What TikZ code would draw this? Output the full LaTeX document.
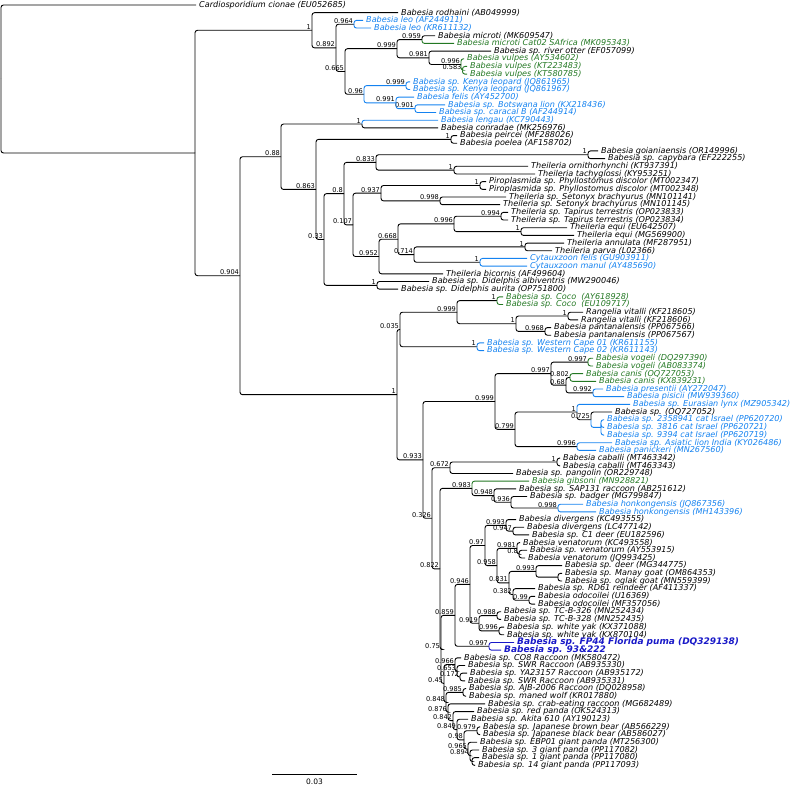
\documentclass[tikz,border=0pt]{standalone}
\usepackage{fontspec}
\setmainfont{DejaVu Sans}
\usetikzlibrary{calc}
\definecolor{lblue}{RGB}{20,130,240}
\definecolor{dgreen}{RGB}{35,120,35}
\definecolor{dblue}{RGB}{25,25,200}
\tikzset{
  br/.style={line width=0.9pt, rounded corners=2.5pt},
  lab/.style={anchor=west, xshift=3pt, inner sep=0pt, font=\fontsize{8.1}{9}\selectfont\itshape},
  sup/.style={anchor=south east, xshift=-0.5pt, yshift=0.3pt, inner sep=0.4pt, font=\fontsize{6.6}{7}\selectfont},
  bl/.style={text=lblue},
  gr/.style={text=dgreen},
  fp/.style={text=dblue, font=\fontsize{9}{10}\selectfont\bfseries\itshape},
}
\newcommand{\leafn}[5]{\coordinate (#1) at (#2,#3);\node[lab,#4] (#1t) at (#1) {#5};}
\newcommand{\inn}[4]{\coordinate (#1) at (#2,#3);\node[sup] (#1s) at (#1) {#4};}
\newcommand{\ed}[3][]{\draw[br,#1] (#2) |- (#3);}
\begin{document}
\begin{tikzpicture}[x=1pt,y=-1pt]
\useasboundingbox (0,0) rectangle (790,788);
% leaves
\leafn{l1}{196}{5.00}{}{Cardiosporidium cionae (EU052685)}
\leafn{l2}{398}{12.68}{}{Babesia rodhaini (AB049999)}
\leafn{l3}{363}{20.36}{bl}{Babesia leo (AF244911)}
\leafn{l4}{371}{28.04}{bl}{Babesia leo (KR611132)}
\leafn{l5}{435}{35.72}{}{Babesia microti (MK609547)}
\leafn{l6}{454}{43.40}{gr}{Babesia microti Cat02 SAfrica (MK095343)}
\leafn{l7}{491}{51.08}{}{Babesia sp. river otter (EF057099)}
\leafn{l8}{464}{58.76}{gr}{Babesia vulpes (AY534602)}
\leafn{l9}{467}{66.44}{gr}{Babesia vulpes (KT223483)}
\leafn{l10}{467}{74.12}{gr}{Babesia vulpes (KT580785)}
\leafn{l11}{410}{81.80}{bl}{Babesia sp. Kenya leopard (JQ861965)}
\leafn{l12}{410}{89.48}{bl}{Babesia sp. Kenya leopard (JQ861967)}
\leafn{l13}{414}{97.16}{bl}{Babesia felis (AY452700)}
\leafn{l14}{445}{104.84}{bl}{Babesia sp. Botswana lion (KX218436)}
\leafn{l15}{436}{112.52}{bl}{Babesia sp. caracal B (AF244914)}
\leafn{l16}{438}{120.20}{bl}{Babesia lengau (KC790443)}
\leafn{l17}{438}{127.88}{}{Babesia conradae (MK256976)}
\leafn{l18}{457}{135.56}{}{Babesia peircei (MF288026)}
\leafn{l19}{457}{143.24}{}{Babesia poelea (AF158702)}
\leafn{l20}{598}{150.92}{}{Babesia goianiaensis (OR149996)}
\leafn{l21}{605}{158.60}{}{Babesia sp. capybara (EF222255)}
\leafn{l22}{528}{166.28}{}{Theileria ornithorhynchi (KT937391)}
\leafn{l23}{535}{173.96}{}{Theileria tachyglossi (KY953251)}
\leafn{l24}{486}{181.64}{}{Piroplasmida sp. Phyllostomus discolor (MT002347)}
\leafn{l25}{486}{189.32}{}{Piroplasmida sp. Phyllostomus discolor (MT002348)}
\leafn{l26}{506}{197.00}{}{Theileria sp. Setonyx brachyurus (MN101141)}
\leafn{l27}{500}{204.68}{}{Theileria sp. Setonyx brachyurus (MN101145)}
\leafn{l28}{508}{212.36}{}{Theileria sp. Tapirus terrestris (OP023833)}
\leafn{l29}{508}{220.04}{}{Theileria sp. Tapirus terrestris (OP023834)}
\leafn{l30}{567}{227.72}{}{Theileria equi (EU642507)}
\leafn{l31}{574}{235.40}{}{Theileria equi (MG569900)}
\leafn{l32}{564}{243.08}{}{Theileria annulata (MF287951)}
\leafn{l33}{552}{250.76}{}{Theileria parva (L02366)}
\leafn{l34}{527}{258.44}{bl}{Cytauxzoon felis (GU903911)}
\leafn{l35}{527}{266.12}{bl}{Cytauxzoon manul (AY485690)}
\leafn{l36}{443}{273.80}{}{Theileria bicornis (AF499604)}
\leafn{l37}{429}{281.48}{}{Babesia sp. Didelphis albiventris (MW290046)}
\leafn{l38}{398}{289.16}{}{Babesia sp. Didelphis aurita (OP751800)}
\leafn{l39}{503}{296.84}{gr}{Babesia sp. Coco~ (AY618928)}
\leafn{l40}{503}{304.52}{gr}{Babesia sp. Coco~ (EU109717)}
\leafn{l41}{583}{312.20}{}{Rangelia vitalli (KF218605)}
\leafn{l42}{578}{319.88}{}{Rangelia vitalli (KF218606)}
\leafn{l43}{551}{327.56}{}{Babesia pantanalensis (PP067566)}
\leafn{l44}{551}{335.24}{}{Babesia pantanalensis (PP067567)}
\leafn{l45}{484}{342.92}{bl}{Babesia sp. Western Cape 01 (KR611155)}
\leafn{l46}{484}{350.60}{bl}{Babesia sp. Western Cape 02 (KR611143)}
\leafn{l47}{593}{358.28}{gr}{Babesia vogeli (DQ297390)}
\leafn{l48}{593}{365.96}{gr}{Babesia vogeli (AB083374)}
\leafn{l49}{583}{373.64}{gr}{Babesia canis (OQ727053)}
\leafn{l50}{596}{381.32}{gr}{Babesia canis (KX839231)}
\leafn{l51}{603}{389.00}{bl}{Babesia presentii (AY272047)}
\leafn{l52}{624}{396.68}{bl}{Babesia pisicii (MW939360)}
\leafn{l53}{630}{404.36}{bl}{Babesia sp. Eurasian lynx (MZ905342)}
\leafn{l54}{612}{412.04}{}{Babesia sp. (OQ727052)}
\leafn{l55}{604}{419.72}{bl}{Babesia sp. 2358941 cat Israel (PP620720)}
\leafn{l56}{604}{427.40}{bl}{Babesia sp. 3816 cat Israel (PP620721)}
\leafn{l57}{604}{435.08}{bl}{Babesia sp. 9394 cat Israel (PP620719)}
\leafn{l58}{612}{442.76}{bl}{Babesia sp. Asiatic lion India (KY026486)}
\leafn{l59}{596}{450.44}{bl}{Babesia panickeri (MN267560)}
\leafn{l60}{560}{458.12}{}{Babesia caballi (MT463342)}
\leafn{l61}{560}{465.80}{}{Babesia caballi (MT463343)}
\leafn{l62}{513}{473.48}{}{Babesia sp. pangolin (OR229748)}
\leafn{l63}{529}{481.16}{gr}{Babesia gibsoni (MN928821)}
\leafn{l64}{516}{488.84}{}{Babesia sp. SAP131 raccoon (AB251612)}
\leafn{l65}{527}{496.52}{}{Babesia sp. badger (MG799847)}
\leafn{l66}{583}{504.20}{bl}{Babesia honkongensis (JQ867356)}
\leafn{l67}{596}{511.88}{bl}{Babesia honkongensis (MH143396)}
\leafn{l68}{516}{519.56}{}{Babesia divergens (KC493555)}
\leafn{l69}{524}{527.24}{}{Babesia divergens (LC477142)}
\leafn{l70}{529}{534.92}{}{Babesia sp. C1 deer (EU182596)}
\leafn{l71}{520}{542.60}{}{Babesia venatorum (KC493558)}
\leafn{l72}{527}{550.28}{}{Babesia sp. venatorum (AY553915)}
\leafn{l73}{525}{557.96}{}{Babesia venatorum (JQ993425)}
\leafn{l74}{562}{565.64}{}{Babesia sp. deer (MG344775)}
\leafn{l75}{562}{573.32}{}{Babesia sp. Manay goat (OM864353)}
\leafn{l76}{562}{581.00}{}{Babesia sp. oglak goat (MN559399)}
\leafn{l77}{535}{588.68}{}{Babesia sp. RD61 reindeer (AF411337)}
\leafn{l78}{535}{596.36}{}{Babesia odocoilei (U16369)}
\leafn{l79}{535}{604.04}{}{Babesia odocoilei (MF357056)}
\leafn{l80}{501}{611.72}{}{Babesia sp. TC-B-326 (MN252434)}
\leafn{l81}{501}{619.40}{}{Babesia sp. TC-B-328 (MN252435)}
\leafn{l82}{504}{627.08}{}{Babesia sp. white yak (KX371088)}
\leafn{l83}{504}{634.76}{}{Babesia sp. white yak (KX870104)}
\leafn{l84}{514}{642.44}{fp}{Babesia sp. FP44 Florida puma (DQ329138)}
\leafn{l85}{501}{650.12}{fp}{Babesia sp. 93\&222}
\leafn{l86}{461}{657.80}{}{Babesia sp. CO8 Raccoon (MK580472)}
\leafn{l87}{465}{665.48}{}{Babesia sp. SWR Raccoon (AB935330)}
\leafn{l88}{467}{673.16}{}{Babesia sp. YA23157 Raccoon (AB935172)}
\leafn{l89}{465}{680.84}{}{Babesia sp. SWR Raccoon (AB935331)}
\leafn{l90}{466}{688.52}{}{Babesia sp. AJB-2006 Raccoon (DQ028958)}
\leafn{l91}{466}{696.20}{}{Babesia sp. maned wolf (KR017880)}
\leafn{l92}{485}{703.88}{}{Babesia sp. crab-eating raccoon (MG682489)}
\leafn{l93}{474}{711.56}{}{Babesia sp. red panda (OK524313)}
\leafn{l94}{468}{719.24}{}{Babesia sp. Akita 610 (AY190123)}
\leafn{l95}{480}{726.92}{}{Babesia sp. Japanese brown bear (AB566229)}
\leafn{l96}{480}{734.60}{}{Babesia sp. Japanese black bear (AB586027)}
\leafn{l97}{477}{742.28}{}{Babesia sp. EBP01 giant panda (MT256300)}
\leafn{l98}{479}{749.96}{}{Babesia sp. 3 giant panda (PP117082)}
\leafn{l99}{479}{757.64}{}{Babesia sp. 1 giant panda (PP117080)}
\leafn{l100}{475}{765.32}{}{Babesia sp. 14 giant panda (PP117093)}
% internal nodes
\coordinate (R0) at (1,78.99);
\coordinate (IN) at (195,152.98);
\inn{A1}{312}{30.26}{1}
\inn{A2}{336}{47.84}{0.892}
\inn{leoN}{354}{24.20}{0.964}
\inn{n665}{345}{71.48}{0.665}
\inn{n999a}{397}{48.68}{0.999}
\inn{n959}{422}{39.56}{0.959}
\inn{n981}{429}{57.80}{0.981}
\inn{n996a}{461}{64.52}{0.996}
\inn{n583}{462.5}{70.28}{0.583}
\inn{n96}{364}{94.28}{0.96}
\inn{kenya}{406}{85.64}{0.999}
\inn{n991}{396}{102.92}{0.991}
\inn{n901}{415}{108.68}{0.901}
\inn{B0904}{240}{275.71}{0.904}
\inn{n88}{281}{156.74}{0.88}
\inn{lengauN}{362}{124.04}{1}
\inn{B1}{316}{189.44}{0.863}
\inn{peirceiN}{451}{139.40}{1}
\inn{C}{324}{239.48}{0.33}
\inn{D}{344}{193.64}{0.8}
\inn{E}{376}{162.44}{0.833}
\inn{goiN}{588}{154.76}{1}
\inn{ornN}{454}{170.12}{1}
\inn{F}{353}{224.84}{0.107}
\inn{G}{381}{193.16}{0.937}
\inn{piroN}{480}{185.48}{1}
\inn{setN}{440}{200.84}{0.998}
\inn{H}{379}{256.52}{0.952}
\inn{I}{398}{239.24}{0.668}
\inn{J}{454}{223.88}{0.996}
\inn{tapN}{501}{216.20}{0.994}
\inn{equiN}{521}{231.56}{1}
\inn{K}{414}{254.60}{0.714}
\inn{annN}{525}{246.92}{1}
\inn{cytN}{480}{262.28}{1}
\inn{didN}{377}{285.32}{1}
\inn{L}{397}{394.68}{1}
\inn{M}{400}{329.48}{0.035}
\inn{n999b}{457}{312.20}{0.999}
\inn{cocoN}{497}{300.68}{1}
\inn{rpN}{516}{323.72}{1}
\inn{rangN}{568}{316.04}{1}
\inn{pantN}{545}{331.40}{0.968}
\inn{wcN}{477}{346.76}{1}
\inn{N}{423}{459.88}{0.933}
\inn{O}{495}{401.48}{0.999}
\inn{Q}{551}{373.64}{0.997}
\inn{vogN}{588}{362.12}{0.997}
\inn{n68}{566}{385.16}{0.68}
\inn{canN}{570}{377.48}{0.802}
\inn{preN}{593}{392.84}{0.992}
\inn{Rn}{515}{429.32}{0.799}
\inn{S}{577}{412.04}{1}
\inn{n725}{591}{419.72}{0.725}
\coordinate (israelN) at (601,427.40);
\inn{lionN}{577}{446.60}{0.996}
\inn{P}{432}{518.29}{0.326}
\inn{T}{450}{467.72}{0.672}
\inn{cabN}{557}{461.96}{1}
\inn{U}{440}{568.86}{0.822}
\inn{n983}{472}{488.36}{0.983}
\inn{n948}{494}{495.56}{0.948}
\inn{n936}{511}{502.28}{0.936}
\inn{honN}{558}{508.04}{0.998}
\inn{V}{441}{649.36}{0.75}
\inn{W}{455}{615.32}{0.859}
\inn{n946}{470}{584.36}{0.946}
\inn{n97}{485}{545.48}{0.97}
\inn{n993a}{506}{525.32}{0.993}
\inn{n947}{513}{531.08}{0.947}
\inn{n958}{497}{565.64}{0.958}
\inn{n981b}{517}{548.36}{0.981}
\inn{n8b}{519}{554.12}{0.8}
\inn{n831}{509}{582.92}{0.831}
\inn{n993b}{536}{571.40}{0.993}
\coordinate (goatN) at (558,577.16);
\inn{n382}{513}{594.44}{0.382}
\inn{odoN}{529}{600.20}{0.99}
\inn{n919}{479}{623.24}{0.919}
\inn{tcN}{497}{615.56}{0.988}
\inn{yakN}{499}{630.92}{0.996}
\inn{fpN}{489}{646.28}{0.997}
\inn{n45}{444}{683.40}{0.45}
\inn{n966}{455}{664.52}{0.966}
\inn{n653}{457}{671.24}{0.653}
\inn{n172}{460}{677.00}{0.172}
\inn{n848}{446}{702.29}{0.848}
\inn{n985}{463}{692.36}{0.985}
\inn{n876}{448}{712.22}{0.876}
\inn{n842}{453}{720.56}{0.842}
\inn{n849}{457}{729.56}{0.849}
\inn{Xb}{464}{739.88}{0.98}
\inn{n979}{477}{730.76}{0.979}
\inn{P1}{468}{749.00}{0.965}
\inn{P2}{470}{755.72}{0.894}
\coordinate (P3) at (472,761.48);
% edges
\ed{R0}{l1}\ed{R0}{IN}
\ed{IN}{A1}\ed{IN}{B0904}
\ed{A1}{l2}\ed{A1}{A2}
\ed{A2}{leoN}\ed{A2}{n665}
\ed[lblue]{leoN}{l3}\ed[lblue]{leoN}{l4}
\ed{n665}{n999a}\ed{n665}{n96}
\ed{n999a}{n959}\ed{n999a}{n981}
\ed{n959}{l5}\ed[dgreen]{n959}{l6}
\ed{n981}{l7}\ed{n981}{n996a}
\ed[dgreen]{n996a}{l8}\ed[dgreen]{n996a}{n583}
\ed[dgreen]{n583}{l9}\ed[dgreen]{n583}{l10}
\ed[lblue]{n96}{kenya}\ed[lblue]{n96}{n991}
\ed[lblue]{kenya}{l11}\ed[lblue]{kenya}{l12}
\ed[lblue]{n991}{l13}\ed[lblue]{n991}{n901}
\ed[lblue]{n901}{l14}\ed[lblue]{n901}{l15}
\ed{B0904}{n88}\ed{B0904}{L}
\ed{n88}{lengauN}\ed{n88}{B1}
\ed[lblue]{lengauN}{l16}\ed{lengauN}{l17}
\ed{B1}{peirceiN}\ed{B1}{C}
\ed{peirceiN}{l18}\ed{peirceiN}{l19}
\ed{C}{D}\ed{C}{didN}
\ed{D}{E}\ed{D}{F}
\ed{E}{goiN}\ed{E}{ornN}
\ed{goiN}{l20}\ed{goiN}{l21}
\ed{ornN}{l22}\ed{ornN}{l23}
\ed{F}{G}\ed{F}{H}
\ed{G}{piroN}\ed{G}{setN}
\ed{piroN}{l24}\ed{piroN}{l25}
\ed{setN}{l26}\ed{setN}{l27}
\ed{H}{I}\ed{H}{l36}
\ed{I}{J}\ed{I}{K}
\ed{J}{tapN}\ed{J}{equiN}
\ed{tapN}{l28}\ed{tapN}{l29}
\ed{equiN}{l30}\ed{equiN}{l31}
\ed{K}{annN}\ed{K}{cytN}
\ed{annN}{l32}\ed{annN}{l33}
\ed[lblue]{cytN}{l34}\ed[lblue]{cytN}{l35}
\ed{didN}{l37}\ed{didN}{l38}
\ed{L}{M}\ed{L}{N}
\ed{M}{n999b}\ed{M}{wcN}
\ed{n999b}{cocoN}\ed{n999b}{rpN}
\ed[dgreen]{cocoN}{l39}\ed[dgreen]{cocoN}{l40}
\ed{rpN}{rangN}\ed{rpN}{pantN}
\ed{rangN}{l41}\ed{rangN}{l42}
\ed{pantN}{l43}\ed{pantN}{l44}
\ed[lblue]{wcN}{l45}\ed[lblue]{wcN}{l46}
\ed{N}{O}\ed{N}{P}
\ed{O}{Q}\ed{O}{Rn}
\ed{Q}{vogN}\ed{Q}{n68}
\ed[dgreen]{vogN}{l47}\ed[dgreen]{vogN}{l48}
\ed{n68}{canN}\ed{n68}{preN}
\ed[dgreen]{canN}{l49}\ed[dgreen]{canN}{l50}
\ed[lblue]{preN}{l51}\ed[lblue]{preN}{l52}
\ed{Rn}{S}\ed{Rn}{lionN}
\ed[lblue]{S}{l53}\ed{S}{n725}
\ed{n725}{l54}\ed[lblue]{n725}{israelN}
\ed[lblue]{israelN}{l55}\ed[lblue]{israelN}{l56}\ed[lblue]{israelN}{l57}
\ed[lblue]{lionN}{l58}\ed[lblue]{lionN}{l59}
\ed{P}{T}\ed{P}{U}
\ed{T}{cabN}\ed{T}{l62}
\ed{cabN}{l60}\ed{cabN}{l61}
\ed{U}{n983}\ed{U}{V}
\ed[dgreen]{n983}{l63}\ed{n983}{n948}
\ed{n948}{l64}\ed{n948}{n936}
\ed{n936}{l65}\ed{n936}{honN}
\ed[lblue]{honN}{l66}\ed[lblue]{honN}{l67}
\ed{V}{W}\ed{V}{n45}
\ed{W}{n946}\ed{W}{fpN}
\ed{n946}{n97}\ed{n946}{n919}
\ed{n97}{n993a}\ed{n97}{n958}
\ed{n993a}{l68}\ed{n993a}{n947}
\ed{n947}{l69}\ed{n947}{l70}
\ed{n958}{n981b}\ed{n958}{n831}
\ed{n981b}{l71}\ed{n981b}{n8b}
\ed{n8b}{l72}\ed{n8b}{l73}
\ed{n831}{n993b}\ed{n831}{n382}
\ed{n993b}{l74}\ed{n993b}{goatN}
\ed{goatN}{l75}\ed{goatN}{l76}
\ed{n382}{l77}\ed{n382}{odoN}
\ed{odoN}{l78}\ed{odoN}{l79}
\ed{n919}{tcN}\ed{n919}{yakN}
\ed{tcN}{l80}\ed{tcN}{l81}
\ed{yakN}{l82}\ed{yakN}{l83}
\ed[dblue]{fpN}{l84}\ed[dblue]{fpN}{l85}
\ed{n45}{n966}\ed{n45}{n848}
\ed{n966}{l86}\ed{n966}{n653}
\ed{n653}{l87}\ed{n653}{n172}
\ed{n172}{l88}\ed{n172}{l89}
\ed{n848}{n985}\ed{n848}{n876}
\ed{n985}{l90}\ed{n985}{l91}
\ed{n876}{l92}\ed{n876}{n842}
\ed{n842}{l93}\ed{n842}{n849}
\ed{n849}{l94}\ed{n849}{Xb}
\ed{Xb}{n979}\ed{Xb}{P1}
\ed{n979}{l95}\ed{n979}{l96}
\ed{P1}{l97}\ed{P1}{P2}
\ed{P2}{l98}\ed{P2}{P3}
\ed{P3}{l99}\ed{P3}{l100}
% scale bar
\coordinate (sb1) at (272,774);
\coordinate (sb2) at (357,774);
\draw[line width=0.9pt] (sb1) -- (sb2);
\node[font=\fontsize{7.5}{8}\selectfont, anchor=north, inner sep=1pt] (sbl) at ($(sb1)!0.5!(sb2)+(0,3.5)$) {0.03};
\end{tikzpicture}
\end{document}
